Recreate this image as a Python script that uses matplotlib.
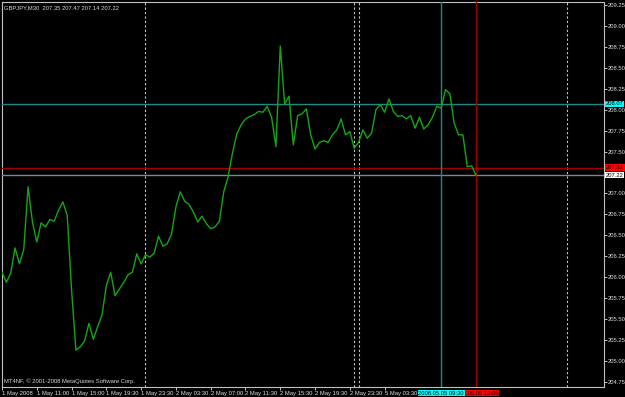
import numpy as np
import matplotlib.pyplot as plt
import matplotlib.transforms as mtransforms
from matplotlib import font_manager

# GBPJPY M30 close prices, one per bar
close = [206.06, 205.94, 206.05, 206.35, 206.16, 206.33, 207.08, 206.66, 206.42, 206.65,
         206.60, 206.69, 206.67, 206.80, 206.90, 206.74, 205.85, 205.13, 205.17, 205.24,
         205.45, 205.26, 205.41, 205.55, 205.90, 206.06, 205.78, 205.86, 205.94, 206.03,
         206.06, 206.28, 206.16, 206.27, 206.24, 206.29, 206.49, 206.37, 206.40, 206.52,
         206.84, 207.02, 206.91, 206.87, 206.78, 206.66, 206.73, 206.64, 206.58, 206.60,
         206.67, 207.02, 207.20, 207.48, 207.71, 207.82, 207.89, 207.92, 207.94, 207.98,
         207.97, 208.04, 207.91, 207.56, 208.76, 208.07, 208.16, 207.58, 207.93, 207.95,
         208.01, 207.70, 207.53, 207.61, 207.63, 207.61, 207.70, 207.76, 207.89, 207.70,
         207.74, 207.54, 207.61, 207.76, 207.66, 207.72, 208.00, 208.06, 207.97, 208.13,
         207.98, 207.92, 207.93, 207.89, 207.93, 207.78, 207.91, 207.77, 207.82, 207.91,
         208.04, 208.02, 208.24, 208.19, 207.84, 207.70, 207.70, 207.32, 207.33, 207.22]

time_labels = ['1 May 2008', '1 May 11:00', '1 May 15:00', '1 May 19:30', '1 May 23:30',
               '2 May 03:30', '2 May 07:00', '2 May 11:30', '2 May 15:30', '2 May 19:30',
               '2 May 23:30', '5 May 03:30']
label_bars = [0, 8, 16, 24, 32, 40, 48, 56, 64, 72, 80, 88]
price_ticks = [204.75, 205.00, 205.25, 205.50, 205.75, 206.00, 206.25, 206.50, 206.75,
               207.00, 207.25, 207.50, 207.75, 208.00, 208.25, 208.50, 208.75, 209.00, 209.25]
separator_bars = [33, 81, 82, 130]
cyan_level, red_level, bid_level = 208.07, 207.31, 207.22
cyan_bar, red_bar = 101, 109

names = {f.name for f in font_manager.fontManager.ttflist}
fam = 'Liberation Sans Narrow' if 'Liberation Sans Narrow' in names else 'Liberation Sans'
plt.rcParams['font.family'] = [fam, 'DejaVu Sans']
fs = 4.2

fig = plt.figure(figsize=(6.25, 3.97), dpi=100, facecolor='black')
ax = fig.add_axes([2/625, 10/397, 602/625, 385/397], facecolor='black')

x = np.arange(len(close))
ax.plot(x, close, color='#12a812', lw=1.0, zorder=5)

for b in separator_bars:
    ax.axvline(b, color='#c8c8c8', lw=0.8, ls=(0, (2, 2)), zorder=2)

ax.axhline(cyan_level, color='#1a8c8c', lw=1.0, zorder=3)
ax.axhline(red_level, color='#a00000', lw=1.0, zorder=3)
ax.axhline(bid_level, color='#778899', lw=1.0, zorder=3)
ax.axvline(cyan_bar, color='#1a8c8c', lw=1.0, zorder=3)
ax.axvline(red_bar, color='#a00000', lw=1.0, zorder=3)

ax.set_xlim(0.07, 138.45)
ax.set_ylim(204.690, 209.286)

for s in ax.spines.values():
    s.set_color('#c0c0c0')
    s.set_linewidth(0.8)

ax.yaxis.tick_right()
ax.set_yticks(price_ticks)
ax.set_yticklabels(['' if p == 207.25 else f'{p:.2f}' for p in price_ticks])
ax.set_xticks(label_bars)
ax.set_xticklabels(time_labels, ha='left')
ax.tick_params(colors='#e0e0e0', labelsize=fs, length=2, width=0.6, pad=0.8)
ax.tick_params(axis='x', pad=0.8)

yt = mtransforms.blended_transform_factory(ax.transAxes, ax.transData)
box = dict(boxstyle='square,pad=0.12', lw=0)
ax.text(1.003, cyan_level, '208.07', transform=yt, fontsize=fs, color='black', va='center',
        ha='left', bbox=dict(box, fc='#00ffff'), clip_on=False, zorder=10)
ax.text(1.003, red_level, '207.31', transform=yt, fontsize=fs, color='black', va='center',
        ha='left', bbox=dict(box, fc='#ff0000'), clip_on=False, zorder=10)
ax.text(1.003, bid_level, '207.22', transform=yt, fontsize=fs, color='black', va='center',
        ha='left', bbox=dict(box, fc='white'), clip_on=False, zorder=11)

xt = mtransforms.blended_transform_factory(ax.transData, ax.transAxes)
ax.text(red_bar, -0.016, '2008.05.05 13:00', transform=xt, fontsize=fs, color='black',
        va='center', ha='center', bbox=dict(box, fc='#ff0000'), clip_on=False, zorder=10)
ax.text(cyan_bar, -0.016, '2008.05.05 09:30', transform=xt, fontsize=fs, color='black',
        va='center', ha='center', bbox=dict(box, fc='#00ffff'), clip_on=False, zorder=11)

ax.text(0.004, 0.992, 'GBPJPY,M30  207.35 207.47 207.14 207.22', transform=ax.transAxes,
        fontsize=fs, color='#d8d8d8', va='top', ha='left')
ax.text(0.004, 0.008, 'MT4NF, \u00a9 2001-2008 MetaQuotes Software Corp.', transform=ax.transAxes,
        fontsize=fs, color='#d8d8d8', va='bottom', ha='left')

fig.savefig('out.png', dpi=100, facecolor='black')
